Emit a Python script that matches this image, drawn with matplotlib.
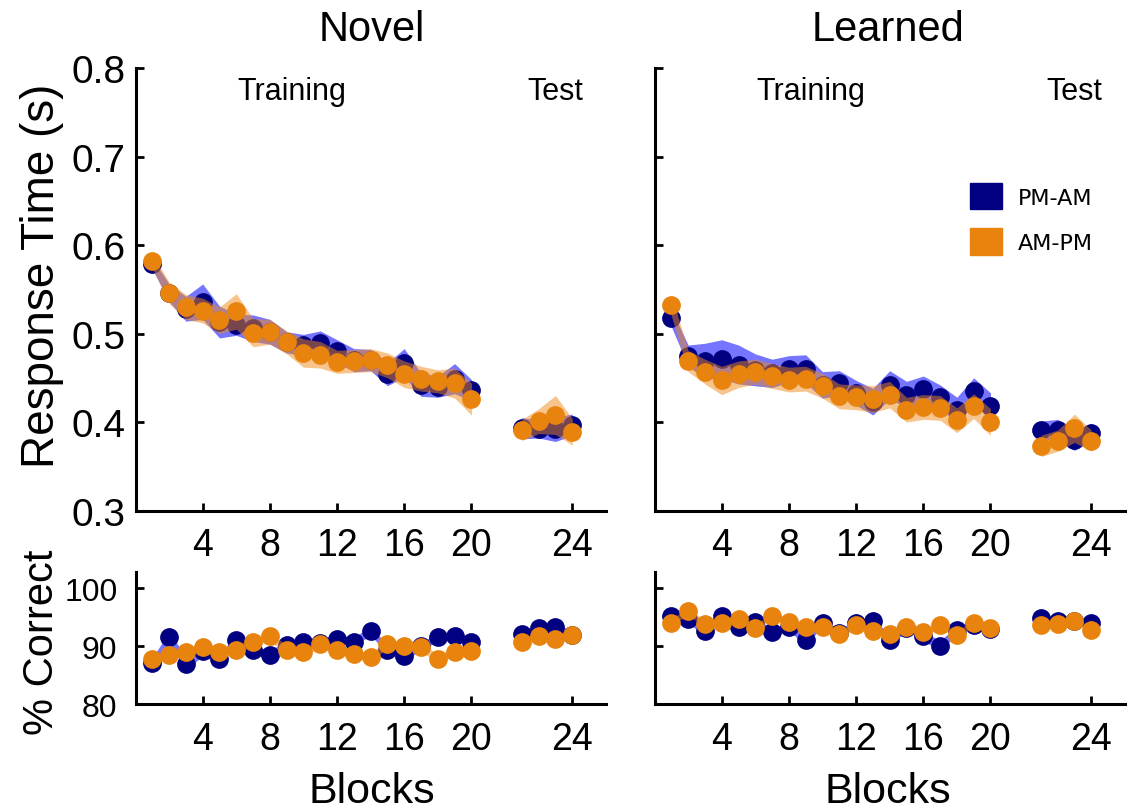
import numpy as np
import matplotlib
matplotlib.use("Agg")
import matplotlib.pyplot as plt
from matplotlib.patches import Patch

plt.rcParams['font.family'] = ['Liberation Sans', 'DejaVu Sans']

# block positions (test blocks are drawn after a gap, last tick is labelled 24)
train_x = np.arange(1, 21)
test_x = np.arange(23, 27)
tick_pos = [4, 8, 12, 16, 20, 26]
tick_lab = ['4', '8', '12', '16', '20', '24']

# response time, Novel
nov_rt_pm = [0.579, 0.546, 0.528, 0.536, 0.513, 0.510, 0.506, 0.502, 0.490, 0.487,
             0.489, 0.480, 0.470, 0.470, 0.454, 0.467, 0.442, 0.440, 0.449, 0.436,
             0.393, 0.392, 0.392, 0.397]
nov_rt_am = [0.582, 0.546, 0.530, 0.526, 0.515, 0.525, 0.501, 0.502, 0.490, 0.478,
             0.476, 0.468, 0.469, 0.470, 0.464, 0.454, 0.449, 0.446, 0.444, 0.426,
             0.391, 0.401, 0.408, 0.389]
nov_rt_pm_se = [0.006, 0.010, 0.014, 0.020, 0.018, 0.012, 0.015, 0.014, 0.012, 0.012,
                0.014, 0.013, 0.013, 0.012, 0.013, 0.016, 0.013, 0.012, 0.017, 0.012,
                0.012, 0.010, 0.014, 0.012]
nov_rt_am_se = [0.008, 0.012, 0.014, 0.014, 0.015, 0.020, 0.016, 0.014, 0.013, 0.016,
                0.015, 0.013, 0.013, 0.013, 0.014, 0.015, 0.014, 0.013, 0.017, 0.018,
                0.012, 0.014, 0.022, 0.015]

# response time, Learned
lrn_rt_pm = [0.518, 0.475, 0.469, 0.471, 0.465, 0.459, 0.455, 0.460, 0.460, 0.442,
             0.444, 0.433, 0.423, 0.442, 0.431, 0.437, 0.428, 0.414, 0.435, 0.418,
             0.391, 0.391, 0.380, 0.388]
lrn_rt_am = [0.532, 0.469, 0.457, 0.447, 0.454, 0.457, 0.452, 0.448, 0.449, 0.441,
             0.429, 0.428, 0.426, 0.431, 0.414, 0.417, 0.416, 0.402, 0.418, 0.400,
             0.373, 0.379, 0.393, 0.379]
lrn_rt_pm_se = [0.010, 0.012, 0.020, 0.022, 0.022, 0.018, 0.016, 0.015, 0.016, 0.015,
                0.014, 0.014, 0.015, 0.016, 0.015, 0.015, 0.014, 0.014, 0.015, 0.015,
                0.010, 0.012, 0.012, 0.010]
lrn_rt_am_se = [0.012, 0.012, 0.014, 0.016, 0.015, 0.014, 0.014, 0.014, 0.014, 0.014,
                0.014, 0.014, 0.015, 0.015, 0.014, 0.014, 0.014, 0.014, 0.014, 0.015,
                0.012, 0.012, 0.016, 0.012]

# percent correct, Novel
nov_acc_pm = [87.2, 91.6, 87.0, 89.2, 87.8, 91.1, 89.4, 88.5, 90.2, 90.7,
              90.5, 91.3, 90.8, 92.7, 89.4, 88.3, 90.0, 91.6, 91.7, 90.8,
              92.2, 93.1, 93.4, 92.0]
nov_acc_am = [87.8, 88.5, 89.0, 89.9, 89.0, 89.4, 90.8, 91.7, 89.4, 89.0,
              90.4, 89.4, 88.7, 88.1, 90.4, 90.1, 89.9, 87.8, 89.1, 89.2,
              90.8, 91.7, 91.3, 92.0]
nov_acc_pm_se = [0.8, 0.9, 1.2, 0.8, 0.9, 0.8, 0.7, 0.8, 0.7, 0.7,
                 0.7, 0.7, 0.7, 0.8, 0.7, 0.8, 0.7, 0.7, 0.7, 0.7,
                 0.6, 0.6, 0.6, 0.6]
nov_acc_am_se = [0.7, 0.7, 0.7, 0.7, 0.7, 0.7, 0.7, 0.8, 0.7, 0.7,
                 0.7, 0.7, 0.7, 0.7, 0.7, 0.7, 0.7, 0.8, 0.7, 0.7,
                 0.6, 0.6, 0.6, 0.6]

# percent correct, Learned
lrn_acc_pm = [95.3, 94.7, 92.7, 95.3, 93.3, 94.2, 92.4, 93.3, 91.0, 94.1,
              92.3, 94.0, 94.4, 91.0, 93.2, 91.8, 90.0, 92.8, 93.7, 93.0,
              94.8, 94.4, 94.3, 94.0]
lrn_acc_am = [94.1, 96.1, 93.8, 94.0, 94.7, 93.1, 95.3, 94.2, 93.3, 93.3,
              92.1, 93.6, 92.7, 92.1, 93.3, 92.5, 93.6, 91.9, 94.1, 93.1,
              93.7, 93.8, 94.4, 92.8]
lrn_acc_pm_se = [0.6, 0.6, 1.0, 0.6, 0.7, 0.6, 0.7, 0.6, 0.9, 0.6,
                 0.6, 0.6, 0.6, 0.8, 0.6, 0.7, 1.0, 0.6, 0.6, 0.6,
                 0.5, 0.5, 0.5, 0.5]
lrn_acc_am_se = [0.6, 0.6, 0.6, 0.6, 0.6, 0.6, 0.6, 0.6, 0.6, 0.6,
                 0.6, 0.6, 0.6, 0.6, 0.6, 0.6, 0.6, 0.6, 0.6, 0.6,
                 0.5, 0.5, 0.5, 0.5]

navy = '#000080'
orange = '#E8830E'
blue_band = (0.25, 0.25, 1.0)
orange_band = '#F08A1A'


def draw_series(ax, y, se, mcol, bcol, balpha, z):
    y = np.array(y)
    se = np.array(se)
    for seg, xs in ((slice(0, 20), train_x), (slice(20, 24), test_x)):
        ax.fill_between(xs, y[seg] - se[seg], y[seg] + se[seg], color=bcol,
                        alpha=balpha, lw=0, zorder=z)
        ax.plot(xs, y[seg], 'o', color=mcol, ms=13.5, mew=0, zorder=z + 1)


def style(ax, ylim, yticks, show_ylab, ypad, tsize_y):
    ax.set_xlim(0, 28)
    ax.set_ylim(*ylim)
    ax.set_xticks(tick_pos)
    ax.set_xticklabels(tick_lab)
    ax.set_yticks(yticks)
    if not show_ylab:
        ax.set_yticklabels([])
    for s in ['top', 'right']:
        ax.spines[s].set_visible(False)
    for s in ['left', 'bottom']:
        ax.spines[s].set_linewidth(2.2)
    ax.tick_params(axis='both', direction='in', length=6, width=2)
    ax.tick_params(axis='x', labelsize=27, pad=12)
    ax.tick_params(axis='y', labelsize=tsize_y, pad=ypad)


fig = plt.figure(figsize=(11.32, 8.12), dpi=100)

ax_nrt = fig.add_axes([0.1197, 0.370, 0.4155, 0.545])
ax_lrt = fig.add_axes([0.5782, 0.370, 0.4155, 0.545])
ax_nac = fig.add_axes([0.1197, 0.1314, 0.4155, 0.1629])
ax_lac = fig.add_axes([0.5782, 0.1314, 0.4155, 0.1629])

panels = [
    (ax_nrt, nov_rt_pm, nov_rt_pm_se, nov_rt_am, nov_rt_am_se),
    (ax_lrt, lrn_rt_pm, lrn_rt_pm_se, lrn_rt_am, lrn_rt_am_se),
    (ax_nac, nov_acc_pm, nov_acc_pm_se, nov_acc_am, nov_acc_am_se),
    (ax_lac, lrn_acc_pm, lrn_acc_pm_se, lrn_acc_am, lrn_acc_am_se),
]
for ax, pm, pm_se, am, am_se in panels:
    draw_series(ax, pm, pm_se, navy, blue_band, 0.72, 1)
    draw_series(ax, am, am_se, orange, orange_band, 0.5, 3)

rt_ticks = [0.3, 0.4, 0.5, 0.6, 0.7, 0.8]
style(ax_nrt, (0.3, 0.8), rt_ticks, True, 7, 28)
style(ax_lrt, (0.3, 0.8), rt_ticks, False, 7, 28)
ax_nrt.set_yticklabels(['0.3', '0.4', '0.5', '0.6', '0.7', '0.8'])
style(ax_nac, (80, 102.8), [80, 90, 100], True, 13, 23)
style(ax_lac, (80, 102.8), [80, 90, 100], False, 13, 23)

for ax in (ax_nrt, ax_lrt):
    ax.text(9.3, 0.774, 'Training', ha='center', va='center', fontsize=22)
    ax.text(25.0, 0.774, 'Test', ha='center', va='center', fontsize=22)

fig.text(372 / 1132, 1 - 30 / 812, 'Novel', ha='center', va='center', fontsize=30)
fig.text(888 / 1132, 1 - 30 / 812, 'Learned', ha='center', va='center', fontsize=30)
fig.text(372 / 1132, 1 - 792 / 812, 'Blocks', ha='center', va='center', fontsize=31)
fig.text(888 / 1132, 1 - 792 / 812, 'Blocks', ha='center', va='center', fontsize=31)
fig.text(42 / 1132, 1 - 276 / 812, 'Response Time (s)', ha='center', va='center',
         rotation=90, fontsize=33)
fig.text(42 / 1132, 1 - 642 / 812, '% Correct', ha='center', va='center',
         rotation=90, fontsize=30)

handles = [Patch(facecolor=navy, edgecolor=navy, label='PM-AM'),
           Patch(facecolor=orange, edgecolor=orange, label='AM-PM')]
fig.legend(handles=handles, loc='upper left', bbox_to_anchor=(970 / 1132, 1 - 184 / 812),
           frameon=False, prop={'family': 'DejaVu Sans', 'size': 16},
           handlelength=1.45, handleheight=1.45, handletextpad=0.7,
           labelspacing=0.85, borderpad=0, borderaxespad=0)

fig.savefig('out.png', dpi=100)
